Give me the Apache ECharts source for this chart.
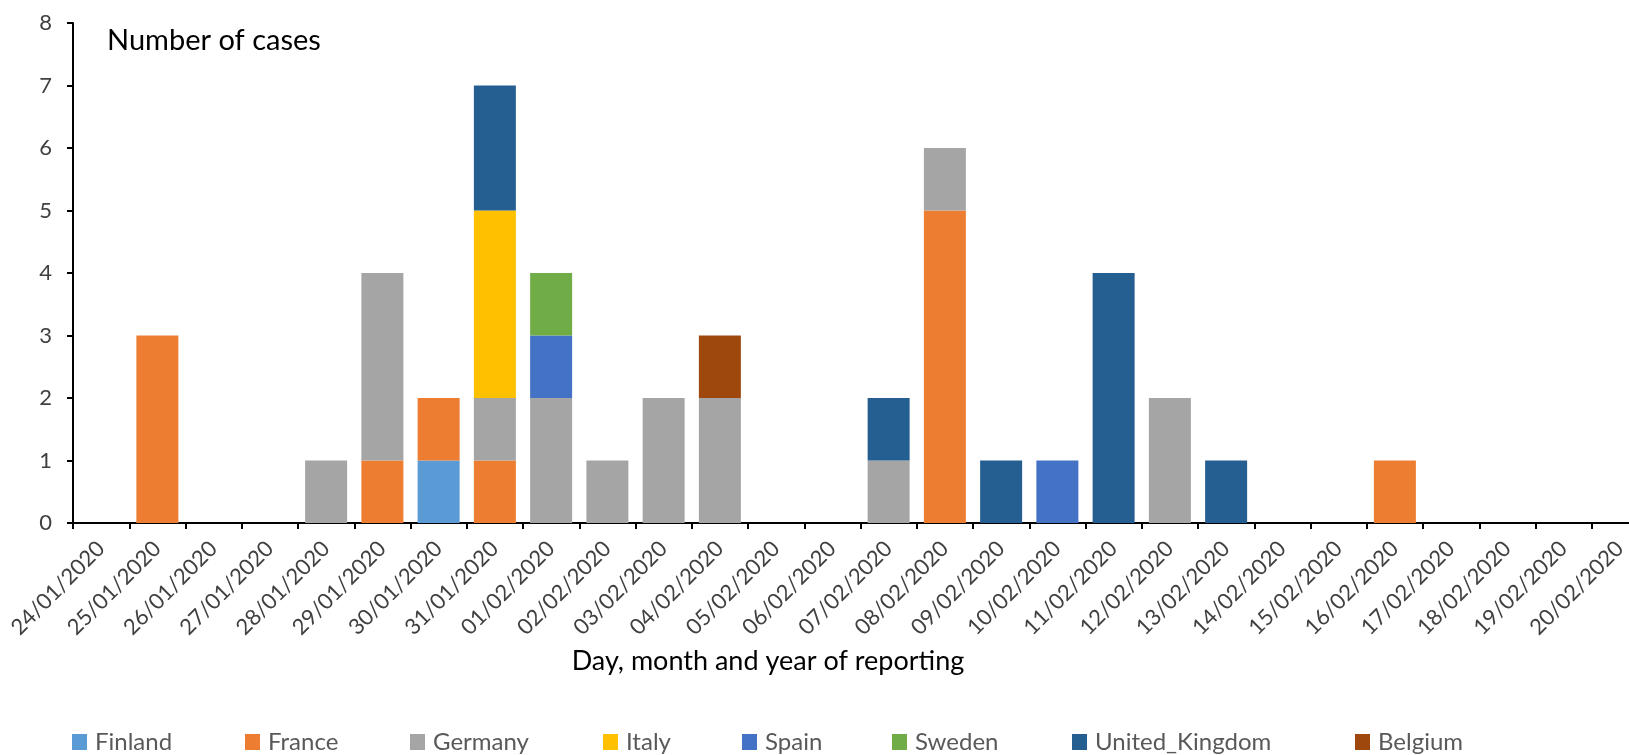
<!DOCTYPE html>
<html>
<head>
<meta charset="utf-8">
<script src="https://cdn.jsdelivr.net/npm/echarts@6.0.0/dist/echarts.min.js"></script>
<style>
    html, body { margin: 0; padding: 0; background: #fff; overflow: hidden; }
    #cases { width: 1700px; height: 755px; }
</style>
</head>
<body>
<div id="cases"></div>
<script>
var days = ['24/01/2020', '25/01/2020', '26/01/2020', '27/01/2020', '28/01/2020', '29/01/2020', '30/01/2020',
    '31/01/2020', '01/02/2020', '02/02/2020', '03/02/2020', '04/02/2020', '05/02/2020', '06/02/2020',
    '07/02/2020', '08/02/2020', '09/02/2020', '10/02/2020', '11/02/2020', '12/02/2020', '13/02/2020',
    '14/02/2020', '15/02/2020', '16/02/2020', '17/02/2020', '18/02/2020', '19/02/2020', '20/02/2020'];

var finland        = [0, 0, 0, 0, 0, 0, 1, 0, 0, 0, 0, 0, 0, 0, 0, 0, 0, 0, 0, 0, 0, 0, 0, 0, 0, 0, 0, 0];
var france         = [0, 3, 0, 0, 0, 1, 1, 1, 0, 0, 0, 0, 0, 0, 0, 5, 0, 0, 0, 0, 0, 0, 0, 1, 0, 0, 0, 0];
var germany        = [0, 0, 0, 0, 1, 3, 0, 1, 2, 1, 2, 2, 0, 0, 1, 1, 0, 0, 0, 2, 0, 0, 0, 0, 0, 0, 0, 0];
var italy          = [0, 0, 0, 0, 0, 0, 0, 3, 0, 0, 0, 0, 0, 0, 0, 0, 0, 0, 0, 0, 0, 0, 0, 0, 0, 0, 0, 0];
var spain          = [0, 0, 0, 0, 0, 0, 0, 0, 1, 0, 0, 0, 0, 0, 0, 0, 0, 1, 0, 0, 0, 0, 0, 0, 0, 0, 0, 0];
var sweden         = [0, 0, 0, 0, 0, 0, 0, 0, 1, 0, 0, 0, 0, 0, 0, 0, 0, 0, 0, 0, 0, 0, 0, 0, 0, 0, 0, 0];
var united_kingdom = [0, 0, 0, 0, 0, 0, 0, 2, 0, 0, 0, 0, 0, 0, 1, 0, 1, 0, 4, 0, 1, 0, 0, 0, 0, 0, 0, 0];
var belgium        = [0, 0, 0, 0, 0, 0, 0, 0, 0, 0, 0, 1, 0, 0, 0, 0, 0, 0, 0, 0, 0, 0, 0, 0, 0, 0, 0, 0];

var countries = ['Finland', 'France', 'Germany', 'Italy', 'Spain', 'Sweden', 'United_Kingdom', 'Belgium'];
var values = [finland, france, germany, italy, spain, sweden, united_kingdom, belgium];
var colors = ['#5B9BD5', '#ED7D31', '#A5A5A5', '#FFC000', '#4472C4', '#70AD47', '#255E91', '#9E480E'];
var legendLeft = [67, 240, 405, 598, 737, 887, 1067, 1350];

var font = 'Lato, "Noto Sans", sans-serif';

var series = [];
var legends = [];
for (var k = 0; k < countries.length; k++) {
    series.push({
        name: countries[k],
        type: 'bar',
        stack: 'cases',
        barWidth: 42,
        data: values[k],
        itemStyle: {color: colors[k]}
    });
    legends.push({
        data: [countries[k]],
        left: legendLeft[k],
        top: 725,
        icon: 'rect',
        itemWidth: 15,
        itemHeight: 16,
        textStyle: {
            fontFamily: font,
            fontSize: 24,
            lineHeight: 24,
            color: '#595959',
            padding: [0, 0, 0, 3]
        }
    });
}

var myChart = echarts.init(document.getElementById('cases'));
myChart.setOption({
    animation: false,
    grid: {
        left: 73,
        top: 23,
        width: 1575,
        height: 500,
        containLabel: false
    },
    legend: legends,
    graphic: [
        {
            type: 'text',
            x: 107,
            y: 41,
            style: {
                text: 'Number of cases',
                fontFamily: font,
                fontSize: 29,
                fill: '#000',
                textVerticalAlign: 'middle'
            }
        },
        {
            type: 'text',
            x: 768,
            y: 661,
            style: {
                text: 'Day, month and year of reporting',
                fontFamily: font,
                fontSize: 27,
                fill: '#000',
                textAlign: 'center',
                textVerticalAlign: 'middle'
            }
        }
    ],
    xAxis: {
        type: 'category',
        data: days,
        axisLine: {lineStyle: {color: '#000', width: 2}},
        axisTick: {show: true, length: 6, lineStyle: {color: '#000', width: 2}},
        axisLabel: {
            interval: 0,
            rotate: 45,
            margin: 22,
            fontFamily: font,
            fontSize: 22,
            color: '#404040'
        }
    },
    yAxis: {
        type: 'value',
        min: 0,
        max: 8,
        interval: 1,
        splitLine: {show: false},
        axisLine: {show: true, lineStyle: {color: '#000', width: 2}},
        axisTick: {show: true, length: 6, lineStyle: {color: '#000', width: 2}},
        axisLabel: {
            margin: 21,
            fontFamily: font,
            fontSize: 22,
            color: '#404040'
        }
    },
    series: series
});
</script>
</body>
</html>
